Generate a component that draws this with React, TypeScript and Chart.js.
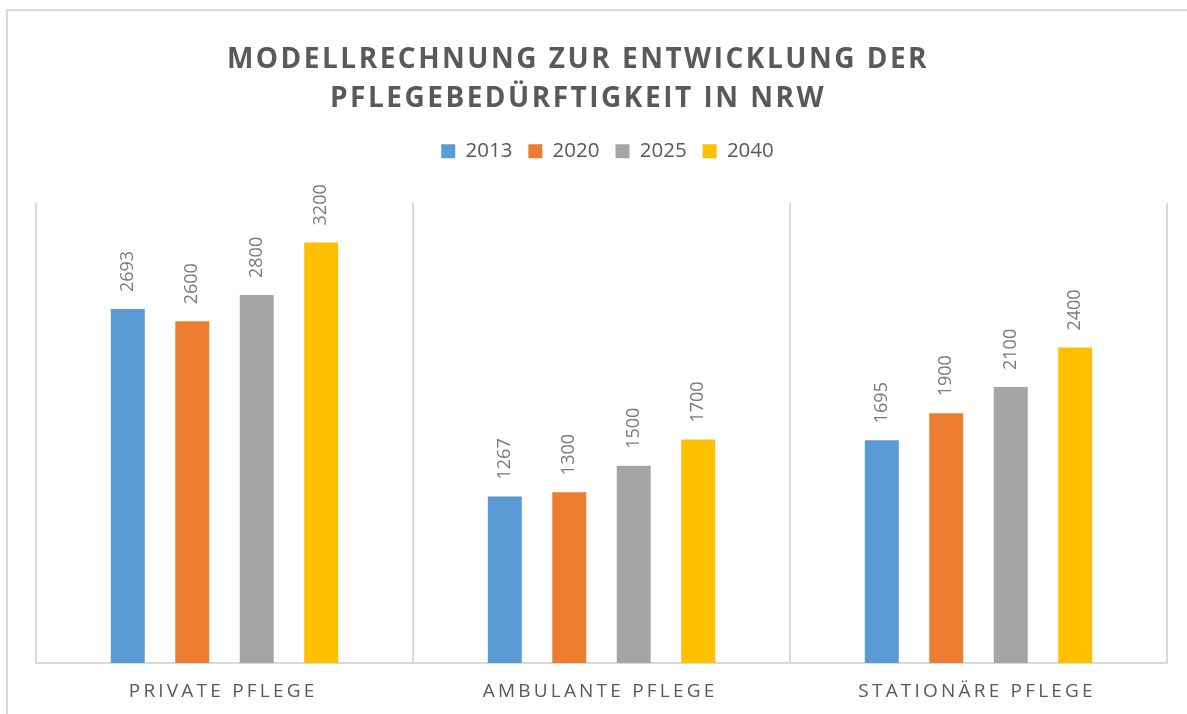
import React, { useEffect, useRef } from "react";
import { Chart, registerables } from "chart.js";

Chart.register(...registerables);

const categories = ["PRIVATE PFLEGE", "AMBULANTE PFLEGE", "STATIONÄRE PFLEGE"];
const seriesNames = ["2013", "2020", "2025", "2040"];
const values2013 = [2693, 1267, 1695];
const values2020 = [2600, 1300, 1900];
const values2025 = [2800, 1500, 2100];
const values2040 = [3200, 1700, 2400];
const seriesColors = ["#5B9BD5", "#ED7D31", "#A5A5A5", "#FFC000"];
const titleLines = ["MODELLRECHNUNG ZUR ENTWICKLUNG DER", "PFLEGEBEDÜRFTIGKEIT IN NRW"];

const FONT = "'Open Sans', 'Noto Sans', sans-serif";
const TEXT_COLOR = "#595959";

const decorPlugin = {
  id: "decor",
  beforeInit(chart: any) {
    const legend = chart.legend;
    if (legend) {
      const orig = legend.fit.bind(legend);
      legend.fit = function () {
        orig();
        this.height = 78;
      };
    }
  },
  afterLayout(chart: any) {
    const legend = chart.legend;
    if (legend) {
      legend.left += 6;
      legend.right += 6;
    }
  },
  afterDraw(chart: any) {
    const ctx = chart.ctx as CanvasRenderingContext2D;
    // Title
    ctx.save();
    ctx.fillStyle = TEXT_COLOR;
    ctx.font = `bold 28px ${FONT}`;
    (ctx as any).letterSpacing = "2.5px";
    ctx.textAlign = "center";
    ctx.textBaseline = "middle";
    const tys = [60, 99];
    titleLines.forEach((line, i) => {
      ctx.fillText(line, 578, tys[i]);
    });
    ctx.restore();

    // Category labels
    const xScale = chart.scales.x;
    ctx.save();
    ctx.fillStyle = TEXT_COLOR;
    ctx.font = `19px ${FONT}`;
    (ctx as any).letterSpacing = "3.2px";
    ctx.textAlign = "center";
    ctx.textBaseline = "middle";
    categories.forEach((c, i) => {
      ctx.fillText(c, xScale.getPixelForValue(i) - 1.4, 692);
    });
    ctx.restore();
  },
  afterDatasetsDraw(chart: any) {
    const ctx = chart.ctx as CanvasRenderingContext2D;
    ctx.save();
    ctx.fillStyle = "#7a7a7a";
    ctx.font = `18px ${FONT}`;
    ctx.textAlign = "left";
    ctx.textBaseline = "middle";
    chart.data.datasets.forEach((ds: any, di: number) => {
      const meta = chart.getDatasetMeta(di);
      meta.data.forEach((el: any, i: number) => {
        ctx.save();
        ctx.translate(el.x, el.y - 17);
        ctx.rotate(-Math.PI / 2);
        ctx.fillText(String(ds.data[i]), 0, 0);
        ctx.restore();
      });
    });
    ctx.restore();
  },
};

export default function App() {
  const ref = useRef<HTMLCanvasElement | null>(null);
  useEffect(() => {
    if (!ref.current) return;
    const allValues = [values2013, values2020, values2025, values2040];
    const chart = new Chart(ref.current, {
      type: "bar",
      data: {
        labels: categories,
        datasets: seriesNames.map((name, i) => ({
          label: name,
          data: allValues[i],
          backgroundColor: seriesColors[i],
          borderColor: seriesColors[i],
          borderWidth: 0,
          categoryPercentage: 0.684,
          barPercentage: 0.527,
        })),
      },
      options: {
        animation: false,
        responsive: false,
        maintainAspectRatio: false,
        layout: { padding: { top: 125, left: 36, right: 20, bottom: 51 } },
        plugins: {
          title: { display: false },
          tooltip: { enabled: false },
          legend: {
            display: true,
            position: "top",
            labels: {
              boxWidth: 14,
              boxHeight: 14,
              padding: 16,
              color: TEXT_COLOR,
              font: { family: FONT, size: 20.5 },
            },
          },
        },
        scales: {
          x: {
            grid: { display: true, offset: true, color: "#d9d9d9", lineWidth: 2, drawTicks: false },
            border: { display: true, color: "#d9d9d9", width: 2 },
            ticks: { display: false },
          },
          y: {
            display: false,
            min: 0,
            max: 3500,
          },
        },
      },
      plugins: [decorPlugin],
    });
    return () => chart.destroy();
  }, []);

  return (
    <div style={{ position: "fixed", left: 0, top: 0, width: 1187, height: 714, overflow: "hidden", background: "#fff" }}>
      <div
        style={{
          position: "absolute",
          left: 6,
          top: 9,
          width: 1200,
          height: 720,
          borderLeft: "2px solid #d9d9d9",
          borderTop: "2px solid #d9d9d9",
        }}
      />
      <canvas ref={ref} width={1187} height={714} style={{ position: "absolute", left: 0, top: 0 }} />
    </div>
  );
}
